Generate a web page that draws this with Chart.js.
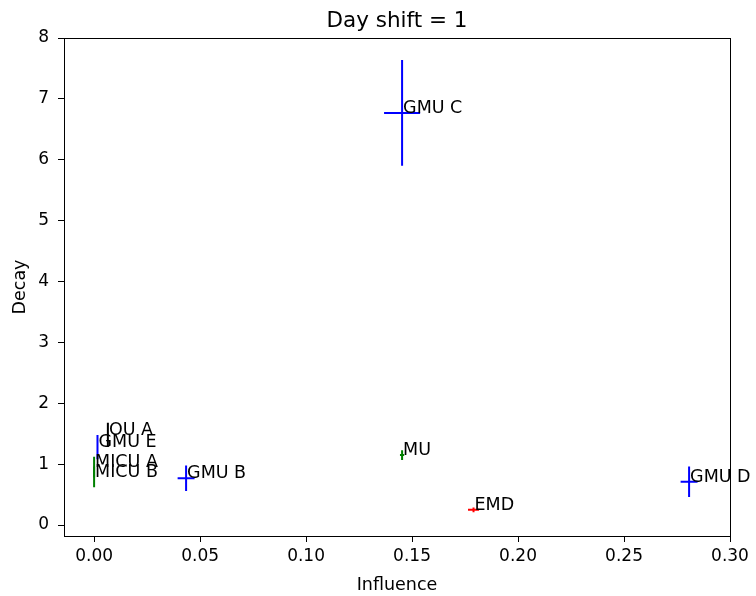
<!DOCTYPE html>
<html>
<head>
<meta charset="utf-8">
<script src="https://cdn.jsdelivr.net/npm/chart.js@4/dist/chart.umd.min.js"></script>
<style>
  html, body { margin: 0; padding: 0; background: #fff; }
  #wrap { width: 756px; height: 596px; }
</style>
</head>
<body>
<div id="wrap"><canvas id="decay-chart"></canvas></div>
<script>
const names = ['GMU C', 'GMU B', 'GMU D', 'GMU E', 'MICU A', 'MICU B', 'MU', 'EMD', 'OU A'];
const influence = [0.1453, 0.0434, 0.2807, 0.0016, 0.0, 0.0, 0.1453, 0.179, 0.0065];
const decay = [6.77, 0.77, 0.71, 1.28, 0.95, 0.79, 1.15, 0.25, 1.48];
const influenceErr = [0.0085, 0.004, 0.004, 0.0002, 0.0002, 0.0002, 0.001, 0.0026, 0.0003];
const decayErr = [0.87, 0.21, 0.25, 0.2, 0.17, 0.17, 0.08, 0.04, 0.2];
const pointColors = ['#0000ff', '#0000ff', '#0000ff', '#0000ff', '#008000', '#008000', '#008000', '#ff0000', '#000000'];
const xTicks = [0, 0.05, 0.10, 0.15, 0.20, 0.25, 0.30];
const yTicks = [0, 1, 2, 3, 4, 5, 6, 7, 8];

const FONT = "'DejaVu Sans', sans-serif";

// error bars, point labels, frame and titles
const errorBars = {
  id: 'errorBars',
  afterDatasetsDraw(chart) {
    const ctx = chart.ctx;
    const xs = chart.scales.x, ys = chart.scales.y;
    const a = chart.chartArea;
    ctx.save();
    ctx.lineWidth = 2;
    names.forEach((n, i) => {
      const px = xs.getPixelForValue(influence[i]);
      const py = ys.getPixelForValue(decay[i]);
      ctx.strokeStyle = pointColors[i];
      ctx.beginPath();
      ctx.moveTo(xs.getPixelForValue(influence[i] - influenceErr[i]), py);
      ctx.lineTo(xs.getPixelForValue(influence[i] + influenceErr[i]), py);
      ctx.moveTo(px, ys.getPixelForValue(decay[i] - decayErr[i]));
      ctx.lineTo(px, ys.getPixelForValue(decay[i] + decayErr[i]));
      ctx.stroke();
    });
    ctx.fillStyle = '#000';
    ctx.font = '17.5px ' + FONT;
    ctx.textAlign = 'left';
    ctx.textBaseline = 'alphabetic';
    names.forEach((n, i) => {
      ctx.fillText(n, xs.getPixelForValue(influence[i]) + 1, ys.getPixelForValue(decay[i]));
    });
    // frame
    ctx.strokeStyle = '#000';
    ctx.lineWidth = 1;
    ctx.strokeRect(a.left + 0.5, a.top + 0.5, a.right - a.left, a.bottom - a.top);
    // titles
    ctx.textAlign = 'center';
    ctx.font = '21.5px ' + FONT;
    ctx.fillText('Day shift = 1', (a.left + a.right) / 2, 27);
    ctx.font = '17.5px ' + FONT;
    ctx.fillText('Influence', (a.left + a.right) / 2, 590);
    ctx.translate(25, (a.top + a.bottom) / 2);
    ctx.rotate(-Math.PI / 2);
    ctx.fillText('Decay', 0, 0);
    ctx.restore();
  }
};

new Chart(document.getElementById('decay-chart'), {
  type: 'scatter',
  data: {
    datasets: [{
      data: names.map((n, i) => ({ x: influence[i], y: decay[i] })),
      pointRadius: 0,
      pointHoverRadius: 0,
      showLine: false
    }]
  },
  options: {
    responsive: true,
    maintainAspectRatio: false,
    animation: false,
    events: [],
    layout: { padding: { top: 38, right: 26, left: 0, bottom: 0 } },
    plugins: {
      legend: { display: false },
      tooltip: { enabled: false },
      title: { display: false }
    },
    scales: {
      x: {
        type: 'linear',
        min: -0.0142,
        max: 0.30,
        afterBuildTicks: s => { s.ticks = xTicks.map(v => ({ value: v })); },
        afterFit: s => { s.height = 60; },
        grid: { drawOnChartArea: false, drawTicks: true, tickLength: 6, color: '#000' },
        border: { display: true, color: '#000', width: 1 },
        ticks: {
          color: '#000',
          font: { family: FONT, size: 17 },
          padding: 4,
          maxRotation: 0,
          callback: v => v.toFixed(2)
        }
      },
      y: {
        type: 'linear',
        min: -0.18,
        max: 8,
        afterBuildTicks: s => { s.ticks = yTicks.map(v => ({ value: v })); },
        afterFit: s => { s.width = 64; },
        grid: { drawOnChartArea: false, drawTicks: true, tickLength: 6, color: '#000' },
        border: { display: true, color: '#000', width: 1 },
        ticks: {
          color: '#000',
          font: { family: FONT, size: 17 },
          padding: 9,
          callback: v => String(v)
        }
      }
    }
  },
  plugins: [errorBars]
});
</script>
</body>
</html>
